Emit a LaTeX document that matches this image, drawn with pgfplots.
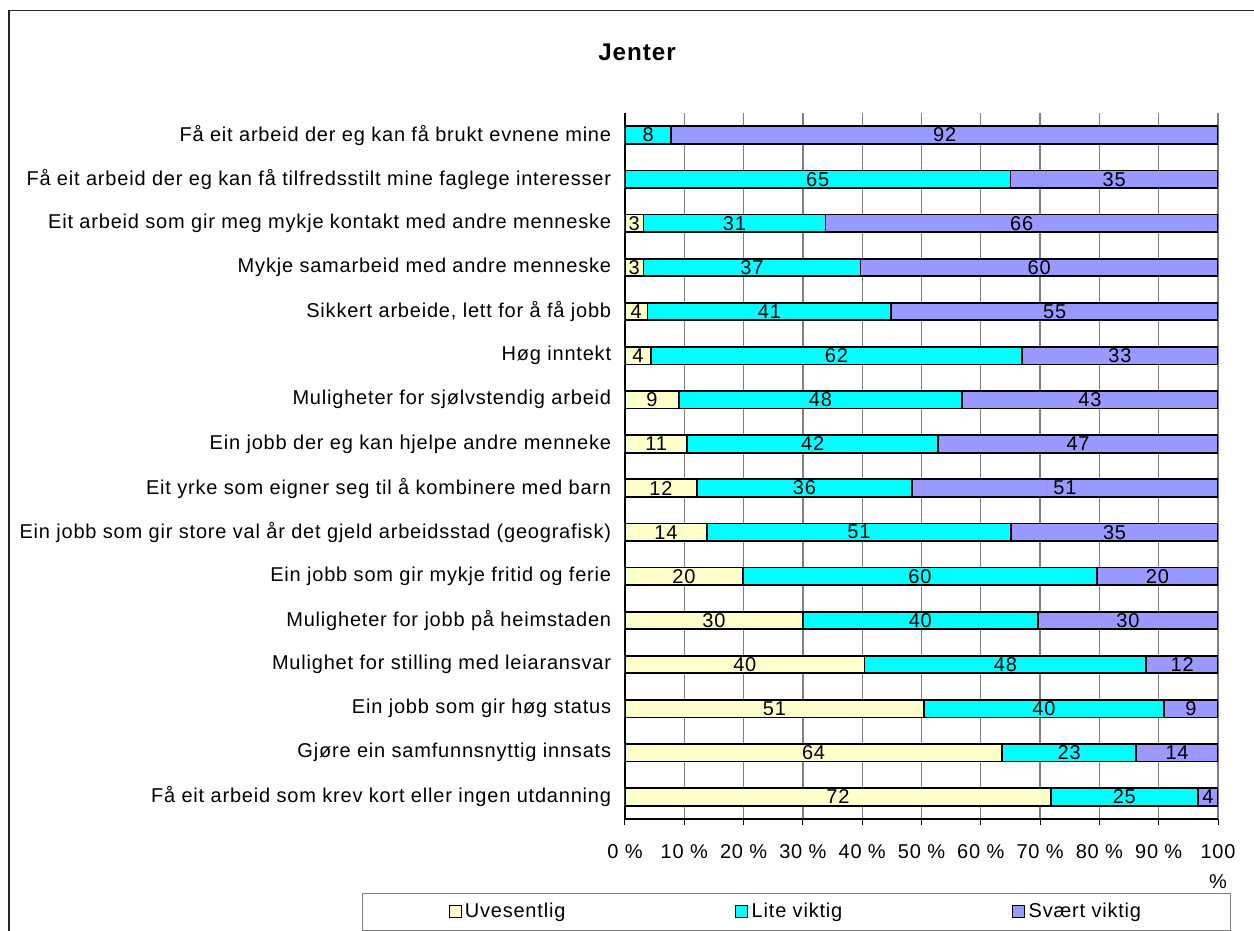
\documentclass[border=0pt]{standalone}
\usepackage{fontspec}
\setmainfont[LetterSpace=4]{Liberation Sans}
\usepackage{pgfplots}
\usepackage{pgfplotstable}
\pgfplotsset{compat=1.18}
\definecolor{cU}{HTML}{FFFFCC}
\definecolor{cL}{HTML}{00FFFF}
\definecolor{cS}{HTML}{9999FF}

% c1,c2,c3: cumulative ends of the segments; m1,m2,m3: segment centres
\pgfplotstableread{
idx c1 c2 c3 m1 m2 m3 ul ll sl
0 71.8 96.6 100 35.9 84.2 98.3 72 25 4
1 63.6 86.2 100 31.8 74.9 93.1 64 23 14
2 50.4 90.9 100 25.2 70.65 95.45 51 40 9
3 40.4 87.9 100 20.2 64.15 93.95 40 48 12
4 30.0 69.6 100 15.0 49.8 84.8 30 40 30
5 19.9 79.6 100 9.95 49.75 89.8 20 60 20
6 13.8 65.1 100 6.9 39.45 82.55 14 51 35
7 12.1 48.4 100 6.05 30.25 74.2 12 36 51
8 10.5 52.8 100 5.25 31.65 76.4 11 42 47
9 9.1 56.8 100 4.55 32.95 78.4 9 48 43
10 4.4 66.9 100 2.2 35.65 83.45 4 62 33
11 3.8 44.9 100 1.9 24.35 72.45 4 41 55
12 3.1 39.7 100 1.55 21.4 69.85 3 37 60
13 3.1 33.8 100 1.55 18.45 66.9 3 31 66
14 0 65.0 100 0 32.5 82.5 {} 65 35
15 0 7.8 100 0 3.9 53.9 {} 8 92
}\data

\newcommand{\lblfont}{\fontsize{12}{14.4}\selectfont}

\pgfplotsset{
  seg/.style={xbar, bar shift=0pt, bar width=10.5pt, fill=#1, draw=black, line width=1pt},
  lbl/.style={draw=none, mark=none, forget plot,
    point meta=explicit symbolic,
    nodes near coords={\pgfplotspointmeta},
    every node near coord/.append style={anchor=center, inner sep=0pt, font=\lblfont, text=black}},
}

\begin{document}
\begin{tikzpicture}
\useasboundingbox (0,0) rectangle (752.4pt,558pt);
\clip (0,0) rectangle (752.4pt,558pt);
\fill[white] (0,0) rectangle (752.4pt,558pt);
\draw[line width=1pt, black!85] (5.2pt,551.6pt) rectangle (800pt,-50pt);
\begin{axis}[
  at={(375pt,66.6pt)}, anchor=south west,
  scale only axis, width=355.8pt, height=423.6pt,
  xmin=0, xmax=100, ymin=-0.5, ymax=15.5,
  enlargelimits=false,
  axis x line*=bottom, axis y line*=left,
  axis line style={-, black, line width=0.8pt},
  xmajorgrids, grid style={gray, line width=0.8pt},
  xtick={0,10,...,100},
  xticklabels={0~\%,10~\%,20~\%,30~\%,40~\%,50~\%,60~\%,70~\%,80~\%,90~\%,{100\\[3.6pt]\%}},
  xticklabel style={align=center, font=\lblfont, yshift=-8.4pt},
  tick align=outside,
  major tick length=3.6pt,
  ytick={0,...,15},
  ytick style={draw=none},
  minor ytick={-0.5,0.5,...,15.5},
  minor tick length=3.6pt,
  minor tick style={draw=black, line width=0.6pt},
  xtick style={draw=black, line width=0.6pt},
  yticklabels={
    Få eit arbeid som krev kort eller ingen utdanning,
    Gjøre ein samfunnsnyttig innsats,
    Ein jobb som gir høg status,
    Mulighet for stilling med leiaransvar,
    Muligheter for jobb på heimstaden,
    Ein jobb som gir mykje fritid og ferie,
    Ein jobb som gir store val år det gjeld arbeidsstad (geografisk),
    Eit yrke som eigner seg til å kombinere med barn,
    Ein jobb der eg kan hjelpe andre menneke,
    Muligheter for sjølvstendig arbeid,
    Høg inntekt,
    {Sikkert arbeide, lett for å få jobb},
    Mykje samarbeid med andre menneske,
    Eit arbeid som gir meg mykje kontakt med andre menneske,
    Få eit arbeid der eg kan få tilfredsstilt mine faglege interesser,
    Få eit arbeid der eg kan få brukt evnene mine},
  yticklabel style={font=\lblfont, xshift=-1.2pt},
  title={Jenter},
  every axis title shift=0pt,
  title style={at={(axis description cs:0.0202,1.0864)}, anchor=center, font=\bfseries\fontsize{14.5}{17}\selectfont},
  legend columns=3,
  reverse legend,
  legend style={at={(axis description cs:-0.4435,-0.1048)}, anchor=north west,
    draw=gray, line width=0.6pt, inner xsep=51.6pt, inner ysep=4pt,
    font=\lblfont,
    /tikz/every even column/.append style={column sep=100pt}},
  legend image code/.code={\draw[#1, draw=black, line width=0.6pt] (0pt,-3.6pt) rectangle (7.2pt,3.6pt);},
]
\addplot[seg=cS] table[x=c3, y=idx] {\data};
\addlegendentry{Svært viktig}
\addplot[seg=cL] table[x=c2, y=idx] {\data};
\addlegendentry{Lite viktig}
\addplot[seg=cU] table[x=c1, y=idx] {\data};
\addlegendentry{Uvesentlig}
\addplot[lbl] table[x=m1, y=idx, meta=ul] {\data};
\addplot[lbl] table[x=m2, y=idx, meta=ll] {\data};
\addplot[lbl] table[x=m3, y=idx, meta=sl] {\data};
\end{axis}
\end{tikzpicture}
\end{document}
